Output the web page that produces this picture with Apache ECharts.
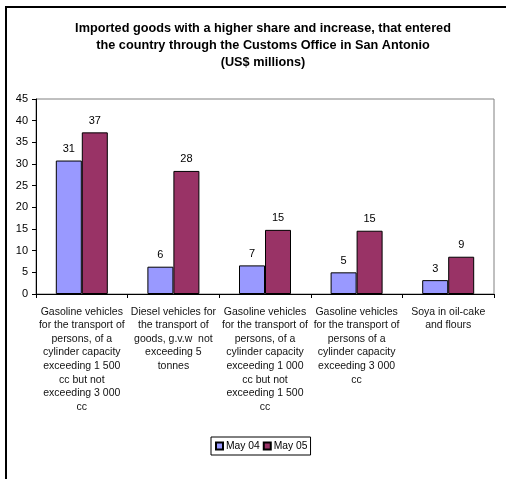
<!DOCTYPE html>
<html><head><meta charset="utf-8">
<script src="https://cdn.jsdelivr.net/npm/echarts@6/dist/echarts.min.js"></script>
<style>html,body{margin:0;padding:0;background:#fff}#c{width:506px;height:479px}</style>
</head><body><div id="c"></div>
<script>
var titleText = "Imported goods with a higher share and increase, that entered\nthe country through the Customs Office in San Antonio\n(US$ millions)";
var categories = [
  "Gasoline vehicles\nfor the transport of\npersons, of a\ncylinder capacity\nexceeding 1 500\ncc but not\nexceeding 3 000\ncc",
  "Diesel vehicles for\nthe transport of\ngoods, g.v.w  not\nexceeding 5\ntonnes",
  "Gasoline vehicles\nfor the transport of\npersons, of a\ncylinder capacity\nexceeding 1 000\ncc but not\nexceeding 1 500\ncc",
  "Gasoline vehicles\nfor the transport of\npersons of a\ncylinder capacity\nexceeding 3 000\ncc",
  "Soya in oil-cake\nand flours"
];
var seriesNames = ["May 04", "May 05"];
var may04 = [30.8, 6.3, 6.6, 5.0, 3.2];
var may05 = [37.3, 28.4, 14.8, 14.6, 8.6];
var yMin = 0, yMax = 45, yStep = 5;

var font = "Liberation Sans, Arial, sans-serif";
var chart = echarts.init(document.getElementById('c'), null, {renderer: 'canvas'});
function barSeries(name, data, color) {
  return {
    name: name, type: 'bar', data: data, barWidth: 26, barGap: '0%',
    itemStyle: {color: color, borderColor: '#000', borderWidth: 1},
    label: {show: true, position: 'top', distance: 6, color: '#000', fontSize: 11, fontFamily: font,
      formatter: function (p) { return Math.round(p.value); }}
  };
}
chart.setOption({
  animation: false,
  backgroundColor: '#fff',
  title: {text: titleText, left: 258, textAlign: 'center', top: 15,
    textStyle: {fontFamily: font, fontSize: 12.7, fontWeight: 'bold', color: '#000', lineHeight: 17}},
  legend: {left: 211, top: 437, orient: 'horizontal', data: seriesNames,
    borderColor: '#000', borderWidth: 1, padding: [4, 3, 4, 4], itemGap: 3,
    itemWidth: 7, itemHeight: 7, icon: 'rect',
    textStyle: {fontFamily: font, fontSize: 10.3, color: '#000', padding: [0, 0, 0, -2]}},
  grid: {left: 36, right: 12, top: 99, bottom: 185, show: true, borderColor: '#808080', borderWidth: 1},
  xAxis: {type: 'category', data: categories,
    axisLine: {lineStyle: {color: '#000', width: 1}},
    axisTick: {show: true, length: 4, lineStyle: {color: '#000'}},
    axisLabel: {interval: 0, margin: 11, fontFamily: font, fontSize: 10.5, color: '#111', lineHeight: 13.6}},
  yAxis: {type: 'value', min: yMin, max: yMax, interval: yStep,
    axisLine: {show: true, lineStyle: {color: '#000', width: 1}},
    axisTick: {show: true, length: 4, lineStyle: {color: '#000'}},
    splitLine: {show: false},
    axisLabel: {margin: 8, fontFamily: font, fontSize: 11, color: '#000'}},
  graphic: [{type: 'polyline', shape: {points: [[6, 479], [6, 7], [506, 7]]},
    style: {stroke: '#000', lineWidth: 2, fill: null}, z: 100}],
  series: [barSeries(seriesNames[0], may04, '#9999FF'), barSeries(seriesNames[1], may05, '#993366')]
});
</script></body></html>
